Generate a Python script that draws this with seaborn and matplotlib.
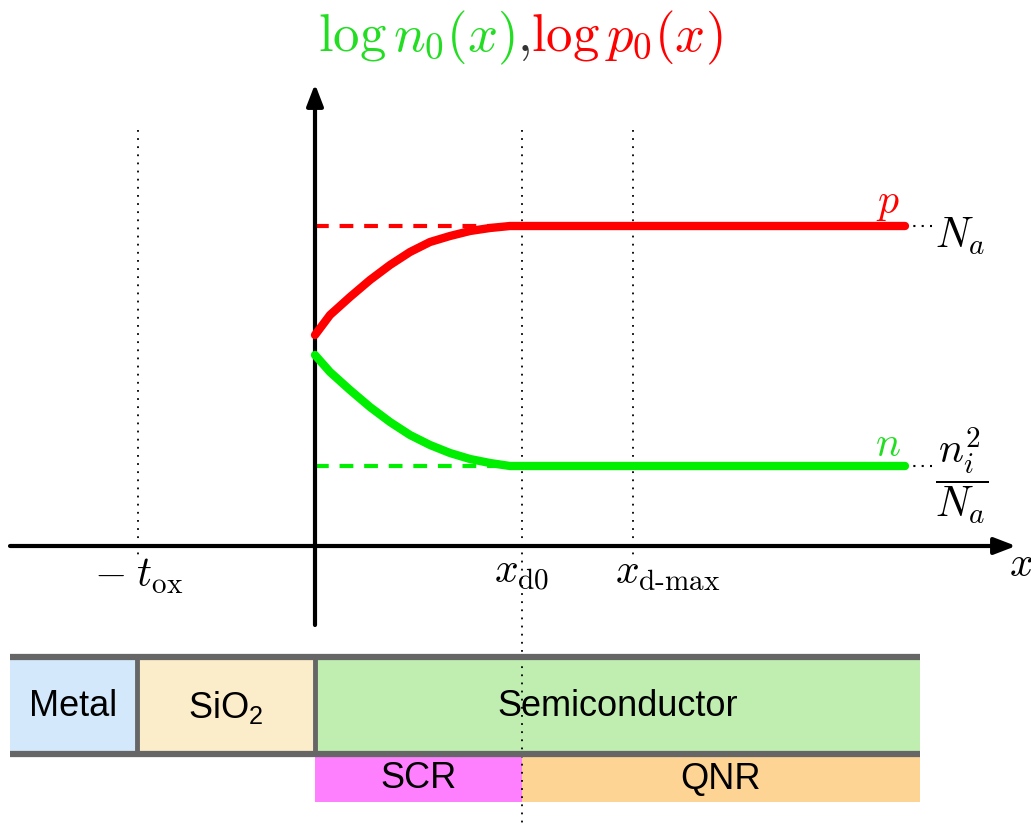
import numpy as np
import pandas as pd
import matplotlib.pyplot as plt
import seaborn as sns
from matplotlib.patches import Rectangle

# coordinates (pixel space, y pointing down)
x_p = [315, 330, 350, 370, 390, 410, 430, 450, 470, 490, 510, 905]
logp = [335, 315, 297, 280, 265, 252, 242, 236, 231, 228, 226, 226]
x_n = [315, 330, 350, 370, 390, 410, 430, 450, 470, 490, 510, 905]
logn = [355, 372, 390, 407, 422, 435, 445, 453, 459, 463, 466, 466]

p_level = 226
n_level = 466
x_origin = 315
x_axis_y = 546
x_tox = 138
x_d0 = 522
x_dmax = 633
x_end = 905

layers = ['Metal', r'$\mathregular{SiO_2}$', 'Semiconductor']
layer_left = [10, 137, 315]
layer_right = [137, 315, 920]
layer_colors = ['#d4e8fb', '#fcedca', '#c0eeb0']
regions = ['SCR', 'QNR']
region_left = [315, 522]
region_right = [522, 920]
region_colors = ['#ff80ff', '#fdd494']

sns.set_style('white')
plt.rcParams['mathtext.fontset'] = 'cm'
plt.rcParams['font.family'] = ['Liberation Sans', 'DejaVu Sans']
plt.rcParams['text.color'] = 'black'

fig = plt.figure(figsize=(10.31, 8.26), dpi=100)
ax = fig.add_axes([0, 0, 1, 1])
ax.set_xlim(0, 1031)
ax.set_ylim(826, 0)
ax.axis('off')

# guide lines
for xv, ytop, ybot in [(x_tox, 130, 560), (x_d0, 130, 826), (x_dmax, 130, 560)]:
    ax.plot([xv, xv], [ytop, ybot], color='black', lw=1.3, ls=(0, (1, 3.5)), zorder=1)

# axes arrows
ax.annotate('', xy=(1016, x_axis_y), xytext=(10, x_axis_y),
            arrowprops=dict(arrowstyle='-|>,head_length=1.3,head_width=0.5', lw=3, color='black',
                            shrinkA=0, shrinkB=0), zorder=3)
ax.annotate('', xy=(x_origin, 84), xytext=(x_origin, 625),
            arrowprops=dict(arrowstyle='-|>,head_length=1.3,head_width=0.5', lw=3, color='black',
                            shrinkA=0, shrinkB=0), zorder=3)

# dashed asymptotes
ax.plot([x_origin, x_d0], [p_level, p_level], color='red', lw=3, ls=(0, (3.3, 2.6)), zorder=2)
ax.plot([x_origin, x_d0], [n_level, n_level], color='#00ee00', lw=3, ls=(0, (3.3, 2.6)), zorder=2)

curves = pd.DataFrame({'x': x_p + x_n, 'y': logp + logn,
                       'carrier': ['p'] * len(x_p) + ['n'] * len(x_n)})
sns.lineplot(data=curves, x='x', y='y', hue='carrier', palette={'p': 'red', 'n': '#00ee00'},
             lw=6, legend=False, sort=True, estimator=None, ax=ax, zorder=4,
             solid_joinstyle='round')
ax.set_xlim(0, 1031)
ax.set_ylim(826, 0)

for lvl in [p_level, n_level]:
    ax.plot([x_end, 932], [lvl, lvl], color='black', lw=1.5, ls=(0, (1, 3)), zorder=2)

# title, placed piece by piece
fig.canvas.draw()
r = fig.canvas.get_renderer()
xpos = 318
for s, c in [(r'$\log n_0(x)$', '#22dd22'), (r'$,$', '#333333'), (r'$\log p_0(x)$', 'red')]:
    t = ax.text(xpos, 38, s, color=c, fontsize=38, va='center', ha='left')
    bb = t.get_window_extent(renderer=r)
    xpos = ax.transData.inverted().transform((bb.x1, bb.y0))[0] + 2

ax.text(888, 203, r'$p$', color='red', fontsize=30, ha='center', va='center')
ax.text(888, 445, r'$n$', color='#22dd22', fontsize=30, ha='center', va='center')
ax.text(935, 236, r'$N_a$', fontsize=30, ha='left', va='center')
ax.text(935, 476, r'$\dfrac{n_i^2}{N_a}$', fontsize=30, ha='left', va='center')
ax.text(139, 576, r'$-\;t_{\mathrm{ox}}$', fontsize=30, ha='center', va='center')
ax.text(522, 573, r'$x_{\mathrm{d0}}$', fontsize=30, ha='center', va='center')
ax.text(668, 573, r'$x_{\mathrm{d\text{-}max}}$', fontsize=30, ha='center', va='center')
ax.text(1021, 565, r'$x$', fontsize=30, ha='center', va='center')

# material stack
for name, l, rr, c in zip(layers, layer_left, layer_right, layer_colors):
    ax.add_patch(Rectangle((l, 657), rr - l, 97, facecolor=c, edgecolor='none', zorder=0))
    ax.text((l + rr) / 2, 707, name, fontsize=26, ha='center', va='center', zorder=5)
for name, l, rr, c in zip(regions, region_left, region_right, region_colors):
    ax.add_patch(Rectangle((l, 754), rr - l, 48, facecolor=c, edgecolor='none', zorder=0))
    ax.text((l + rr) / 2, 779, name, fontsize=26, ha='center', va='center', zorder=5)
for yb in [657, 754]:
    ax.plot([10, 920], [yb, yb], color='#666666', lw=4.5, solid_capstyle='butt', zorder=1)
for xb in layer_left[1:]:
    ax.plot([xb, xb], [657, 754], color='#666666', lw=3.5, solid_capstyle='butt', zorder=1)

fig.savefig('out.png', dpi=100)
